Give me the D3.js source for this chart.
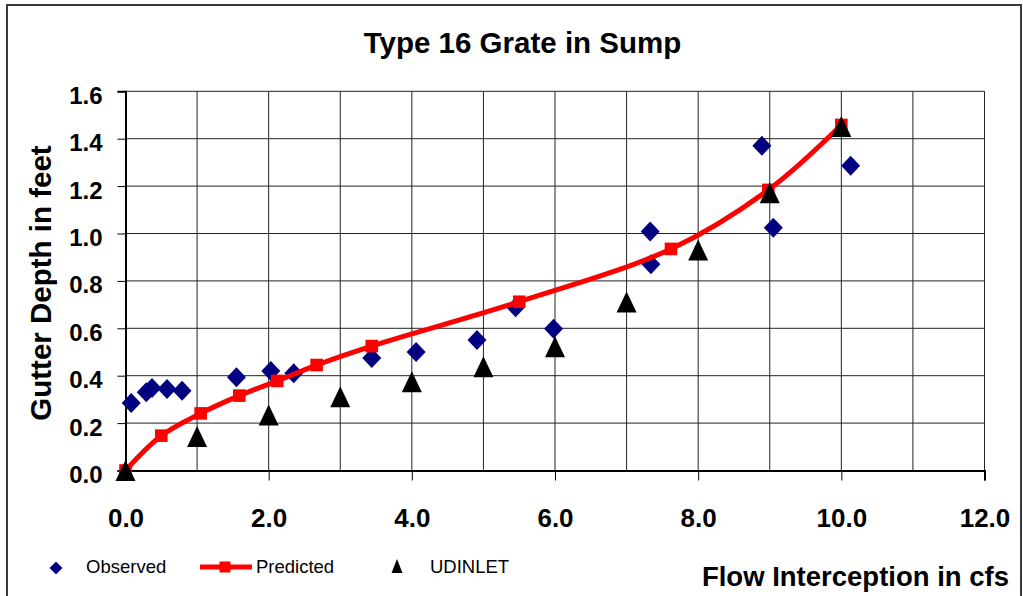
<!DOCTYPE html>
<html>
<head>
<meta charset="utf-8">
<script src="https://cdn.jsdelivr.net/npm/d3@7"></script>
<style>
  body { margin: 0; background: #fff; }
  svg text { font-family: "Liberation Sans", Arial, sans-serif; }
  .tick-label { font-weight: bold; }
</style>
</head>
<body>
<div class="graph"></div>
<script>
// data
const observedX = [0.08, 0.29, 0.37, 0.58, 0.79, 1.55, 2.03, 2.35, 3.44, 4.06, 4.91, 5.45, 5.98, 7.33, 7.34, 8.89, 9.05, 10.13];
const observedY = [0.285, 0.33, 0.348, 0.344, 0.336, 0.393, 0.42, 0.41, 0.475, 0.50, 0.551, 0.689, 0.598, 1.008, 0.870, 1.370, 1.024, 1.286];

const predictedX = [0, 0.5, 1.05, 1.59, 2.12, 2.67, 3.44, 5.50, 7.62, 8.98, 10.0];
const predictedY = [0, 0.147, 0.241, 0.316, 0.378, 0.445, 0.525, 0.712, 0.935, 1.184, 1.458];

const udinletX = [0, 1, 2, 3, 4, 5, 6, 7, 8, 9, 10];
const udinletY = [0, 0.143, 0.234, 0.311, 0.375, 0.438, 0.522, 0.711, 0.930, 1.172, 1.451];

const xTicks = [0, 2, 4, 6, 8, 10, 12];
const yTicks = [0, 0.2, 0.4, 0.6, 0.8, 1.0, 1.2, 1.4, 1.6];
const xGrid = [1, 2, 3, 4, 5, 6, 7, 8, 9, 10, 11, 12];
const yGrid = [0.2, 0.4, 0.6, 0.8, 1.0, 1.2, 1.4, 1.6];

const legendNames = ["Observed", "Predicted", "UDINLET"];

const w = 1023;
const h = 596;
const plotLeft = 125.5, plotRight = 984.5, plotTop = 91.3, plotBottom = 470.5;

const observed = observedX.map((d, i) => [d, observedY[i]]);
const predicted = predictedX.map((d, i) => [d, predictedY[i]]);
const udinlet = udinletX.map((d, i) => [d, udinletY[i]]);

const xScale = d3.scaleLinear().domain([0, 12]).range([plotLeft, plotRight]);
const yScale = d3.scaleLinear().domain([0, 1.6]).range([plotBottom, plotTop]);

const svg = d3.select(".graph")
  .append("svg")
  .attr("width", w)
  .attr("height", h);

// outer chart border
svg.append("rect")
  .attr("x", 7).attr("y", 5)
  .attr("width", 1014).attr("height", 620)
  .attr("fill", "none")
  .attr("stroke", "#3a3a3a")
  .attr("stroke-width", 2);

// title
svg.append("text")
  .attr("x", 522.5).attr("y", 53)
  .attr("text-anchor", "middle")
  .attr("font-size", 29.5)
  .attr("font-weight", "bold")
  .text("Type 16 Grate in Sump");

// grid
svg.append("g").selectAll("line")
  .data(yGrid).enter().append("line")
  .attr("x1", plotLeft).attr("x2", plotRight)
  .attr("y1", d => yScale(d)).attr("y2", d => yScale(d))
  .attr("stroke", "#222").attr("stroke-width", 1);

svg.append("g").selectAll("line")
  .data(xGrid).enter().append("line")
  .attr("x1", d => xScale(d)).attr("x2", d => xScale(d))
  .attr("y1", plotTop).attr("y2", plotBottom)
  .attr("stroke", "#222").attr("stroke-width", 1);

// axes
const yAxis = d3.axisLeft(yScale)
  .tickValues(yTicks)
  .tickSize(8)
  .tickPadding(15)
  .tickFormat(d3.format(".1f"));

const xAxis = d3.axisBottom(xScale)
  .tickValues(xTicks)
  .tickSize(10)
  .tickPadding(28)
  .tickFormat(d3.format(".1f"));

const gy = svg.append("g")
  .attr("transform", "translate(" + plotLeft + ",0)")
  .call(yAxis);
gy.select(".domain").attr("stroke", "#000").attr("stroke-width", 2);
gy.selectAll(".tick line").attr("stroke", "#000");
gy.selectAll("text")
  .attr("class", "tick-label")
  .attr("font-size", 24)
  .attr("fill", "#000")
  .attr("dy", "0.5em");

const gx = svg.append("g")
  .attr("transform", "translate(0," + plotBottom + ")")
  .call(xAxis);
gx.select(".domain").attr("stroke", "#000").attr("stroke-width", 2);
gx.selectAll(".tick line").attr("stroke", "#000");
gx.selectAll("text")
  .attr("class", "tick-label")
  .attr("font-size", 26)
  .attr("fill", "#000");

// axis titles
svg.append("text")
  .attr("transform", "translate(51,283) rotate(-90)")
  .attr("text-anchor", "middle")
  .attr("font-size", 29.5)
  .attr("font-weight", "bold")
  .text("Gutter Depth in feet");

svg.append("text")
  .attr("x", 1009).attr("y", 586)
  .attr("text-anchor", "end")
  .attr("font-size", 27.5)
  .attr("font-weight", "bold")
  .text("Flow Interception in cfs");

// markers
const diamond = (cx, cy, hw, hh) =>
  "M" + cx + "," + (cy - hh) + "L" + (cx + hw) + "," + cy + "L" + cx + "," + (cy + hh) + "L" + (cx - hw) + "," + cy + "Z";
const triangle = (cx, cy, hw, hh) =>
  "M" + cx + "," + (cy - hh) + "L" + (cx + hw) + "," + (cy + hh) + "L" + (cx - hw) + "," + (cy + hh) + "Z";

svg.append("g").selectAll("path")
  .data(observed).enter().append("path")
  .attr("d", d => diamond(xScale(d[0]), yScale(d[1]), 9.5, 10))
  .attr("fill", "#000080");

const line = d3.line()
  .x(d => xScale(d[0]))
  .y(d => yScale(d[1]))
  .curve(d3.curveCatmullRom.alpha(0.5));

svg.append("path")
  .datum(predicted)
  .attr("d", line)
  .attr("fill", "none")
  .attr("stroke", "#ff0000")
  .attr("stroke-width", 5);

svg.append("g").selectAll("rect")
  .data(predicted).enter().append("rect")
  .attr("x", d => xScale(d[0]) - 6.3)
  .attr("y", d => yScale(d[1]) - 6.3)
  .attr("width", 12.6).attr("height", 12.6)
  .attr("fill", "#ff0000");

svg.append("g").selectAll("path")
  .data(udinlet).enter().append("path")
  .attr("d", d => triangle(xScale(d[0]), yScale(d[1]), 10, 10.5))
  .attr("fill", "#000");

// legend
const lg = svg.append("g");
lg.append("path").attr("d", diamond(56, 568, 6.5, 6.5)).attr("fill", "#000080");
lg.append("line")
  .attr("x1", 200).attr("x2", 252).attr("y1", 567).attr("y2", 567)
  .attr("stroke", "#ff0000").attr("stroke-width", 5);
lg.append("rect").attr("x", 219.5).attr("y", 561.5).attr("width", 11).attr("height", 11).attr("fill", "#ff0000");
lg.append("path").attr("d", triangle(397, 566, 5.5, 7)).attr("fill", "#000");

lg.selectAll("text")
  .data(legendNames).enter().append("text")
  .attr("x", (d, i) => [86, 256, 430][i])
  .attr("y", 573)
  .attr("font-size", 18.5)
  .attr("fill", "#000")
  .text(d => d);
</script>
</body>
</html>
